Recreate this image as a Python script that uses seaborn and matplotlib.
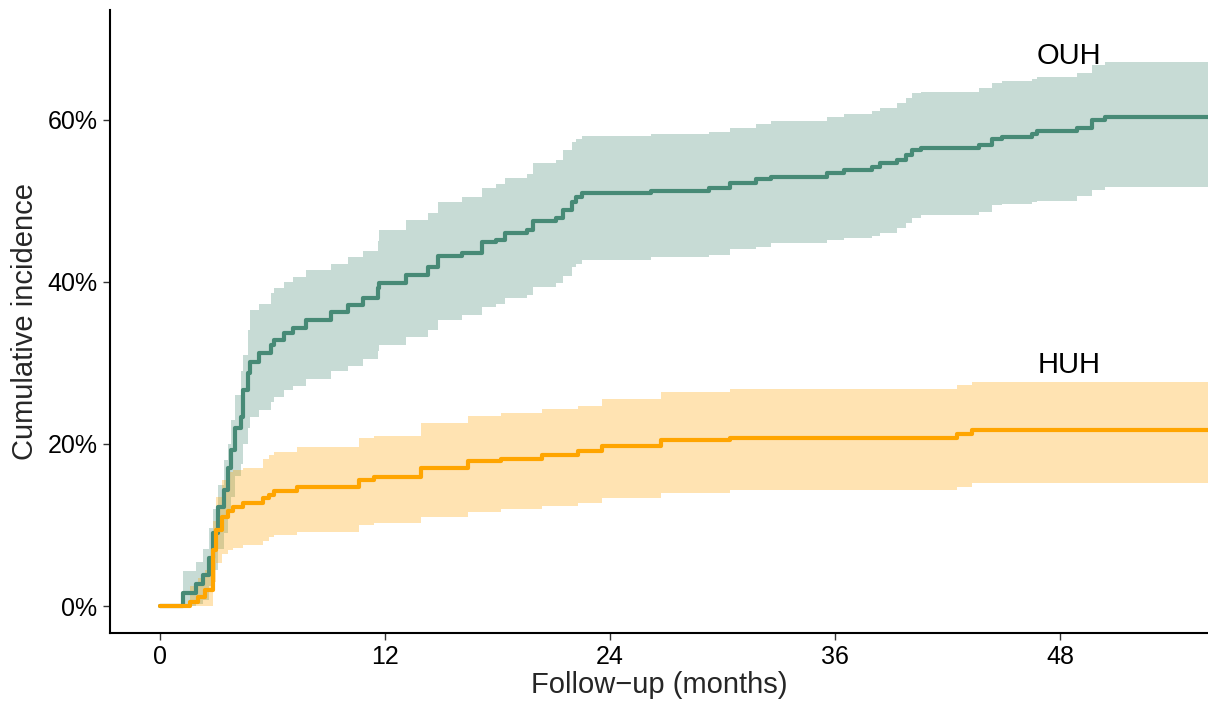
import numpy as np
import pandas as pd
import matplotlib
matplotlib.use("Agg")
import matplotlib.pyplot as plt
import seaborn as sns
from matplotlib.ticker import PercentFormatter

# ---------------- data ----------------
groups = ["OUH", "HUH"]
colors = {"OUH": "#478a76", "HUH": "#ffa500"}

ouh_time = [0, 1.2, 1.9, 2.3, 2.6, 2.8, 3.1, 3.4, 3.6, 3.8,
            4.0, 4.3, 4.4, 4.7, 4.8, 5.3, 5.9, 6.1, 6.6, 7.1,
            7.8, 9.1, 10.0, 10.8, 11.6, 11.7, 13.1, 14.3, 14.8, 16.1,
            17.2, 17.9, 18.4, 19.6, 19.9, 21.1, 21.5, 22.0, 22.2, 22.5,
            26.2, 29.3, 30.4, 31.8, 32.6, 35.6, 36.5, 38.0, 38.4, 39.3,
            39.8, 40.1, 40.6, 43.7, 44.4, 44.9, 46.5, 46.8, 48.9, 49.7,
            50.4, 55.9]
ouh_est = [0, 1.6, 2.8, 3.8, 6.0, 9.0, 12.2, 14.3, 17.1, 19.2,
           22.0, 23.3, 26.6, 28.7, 30.1, 31.2, 32.2, 32.8, 33.7, 34.3,
           35.3, 36.3, 37.1, 38.0, 39.2, 39.8, 40.8, 41.8, 43.2, 43.6,
           44.9, 45.2, 46.0, 46.4, 47.5, 47.8, 48.8, 49.8, 50.4, 50.9,
           51.2, 51.5, 52.2, 52.7, 52.9, 53.4, 53.8, 54.1, 54.6, 55.0,
           55.6, 56.3, 56.5, 56.8, 57.6, 57.8, 58.2, 58.6, 58.9, 59.9,
           60.3, 60.3]
ouh_upper = [0, 4.4, 5.5, 7.0, 9.7, 12.0, 15.0, 18.0, 20.0, 23.0,
             26.0, 29.0, 31.0, 34.0, 36.5, 37.3, 38.6, 39.2, 40.0, 40.6,
             41.4, 42.2, 43.0, 43.8, 45.0, 46.4, 47.6, 48.5, 49.8, 50.4,
             51.5, 52.0, 52.8, 53.3, 54.6, 55.0, 56.2, 57.2, 57.6, 58.0,
             58.2, 58.4, 59.0, 59.4, 59.8, 60.3, 60.7, 61.0, 61.4, 62.0,
             62.6, 63.3, 63.4, 63.9, 64.5, 64.7, 65.0, 65.2, 65.7, 66.7,
             67.1, 67.1]
ouh_lower = [0, 0, 0.3, 0.8, 2.5, 4.5, 7.0, 9.0, 11.5, 13.5,
             16.0, 17.5, 20.0, 22.0, 23.3, 24.2, 25.2, 25.8, 26.6, 27.2,
             28.0, 29.0, 29.6, 30.5, 31.5, 32.2, 33.2, 34.0, 35.3, 35.9,
             36.9, 37.3, 38.0, 38.4, 39.4, 39.8, 40.7, 41.8, 42.2, 42.7,
             43.0, 43.3, 44.0, 44.3, 44.8, 45.1, 45.4, 45.6, 46.0, 46.6,
             47.2, 47.8, 48.2, 48.6, 49.4, 49.6, 49.8, 50.0, 50.6, 51.3,
             51.7, 51.7]

huh_time = [0, 1.6, 2.0, 2.4, 2.8, 3.0, 3.3, 3.6, 3.9, 4.4,
            5.5, 5.8, 6.1, 7.3, 10.6, 11.4, 13.9, 16.4, 18.2, 20.4,
            22.3, 23.6, 26.7, 30.4, 42.5, 43.3, 55.9]
huh_est = [0, 0.5, 1.1, 2.0, 6.9, 9.4, 11.0, 11.8, 12.2, 12.7,
           13.3, 13.7, 14.2, 14.7, 15.5, 15.9, 17.1, 17.9, 18.2, 18.6,
           19.1, 19.7, 20.5, 20.8, 21.2, 21.7, 21.7]
huh_upper = [0, 2.5, 3.5, 4.5, 10.5, 13.5, 15.5, 16.5, 16.8, 17.1,
             18.2, 18.6, 19.0, 19.6, 20.7, 21.0, 22.6, 23.4, 23.8, 24.3,
             24.7, 25.5, 26.4, 26.8, 27.3, 27.7, 27.7]
huh_lower = [0, 0, 0, 0, 3.0, 5.3, 6.5, 6.9, 7.2, 7.5,
             8.1, 8.5, 8.8, 9.1, 10.0, 10.2, 11.0, 11.6, 12.0, 12.4,
             12.7, 13.4, 14.0, 14.3, 14.7, 15.2, 15.2]

x_ticks = [0, 12, 24, 36, 48]
y_ticks = [0, 20, 40, 60]
label_pos = {"OUH": (48.5, 67.8), "HUH": (48.5, 29.7)}

# ---------------- build table ----------------
series = {
    "OUH": (ouh_time, ouh_est, ouh_lower, ouh_upper),
    "HUH": (huh_time, huh_est, huh_lower, huh_upper),
}
frames = []
for g in groups:
    t, e, lo, up = series[g]
    frames.append(pd.DataFrame({"time": t, "est": np.array(e) / 100,
                                "lower": np.array(lo) / 100,
                                "upper": np.array(up) / 100, "group": g}))
df = pd.concat(frames, ignore_index=True)

# ---------------- plot ----------------
sns.set_theme(style="ticks")
plt.rcParams["font.family"] = ["Liberation Sans", "DejaVu Sans"]

fig = plt.figure(figsize=(12.08, 7.06), dpi=100)
ax = fig.add_axes([110 / 1208, (706 - 633) / 706, (1208 - 110) / 1208, (633 - 10) / 706])

for g in groups:
    d = df[df["group"] == g]
    ax.fill_between(d["time"], d["lower"], d["upper"], step="post",
                    color=colors[g], alpha=0.3, linewidth=0)
    sns.lineplot(data=d, x="time", y="est", ax=ax, color=colors[g],
                 estimator=None, drawstyle="steps-post", linewidth=3.0,
                 legend=False)

for g in groups:
    x, y = label_pos[g]
    ax.text(x, y / 100, g, fontsize=21, ha="center", va="center", color="black")

ax.set_xlim(-2.67, 55.9)
ax.set_ylim(-0.033, 0.735)
ax.set_xticks(x_ticks)
ax.set_yticks([v / 100 for v in y_ticks])
ax.yaxis.set_major_formatter(PercentFormatter(1.0, decimals=0))
ax.tick_params(axis="both", labelsize=18, length=5, width=1.0,
               color="#333333", labelcolor="black", pad=4)
ax.set_xlabel("Follow\u2212up (months)", fontsize=21, labelpad=1)
ax.set_ylabel("Cumulative incidence", fontsize=21, labelpad=6)
sns.despine(ax=ax)
for s in ["left", "bottom"]:
    ax.spines[s].set_linewidth(1.5)
    ax.spines[s].set_color("black")

fig.savefig("out.png", dpi=100)
